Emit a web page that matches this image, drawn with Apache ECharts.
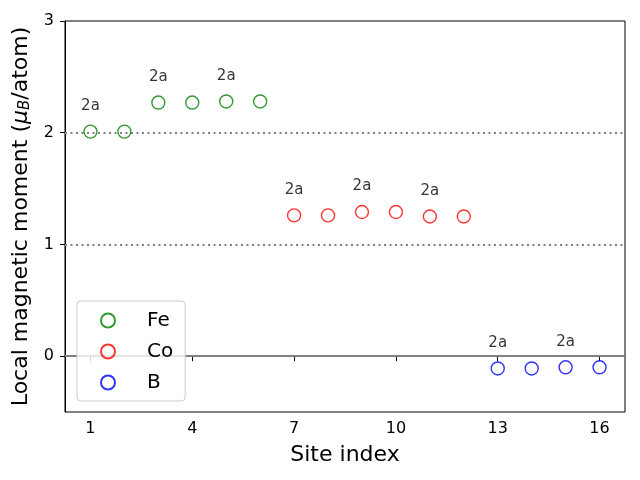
<!DOCTYPE html>
<html>
<head>
<meta charset="utf-8">
<script src="https://cdn.jsdelivr.net/npm/echarts@6/dist/echarts.min.js"></script>
<style>
  html, body { margin: 0; padding: 0; background: #fff; }
  #chart { width: 640px; height: 480px; }
</style>
</head>
<body>
<div id="chart"></div>
<script>
const feSites = [1, 2, 3, 4, 5, 6];
const feMoments = [2.01, 2.01, 2.27, 2.27, 2.28, 2.28];
const coSites = [7, 8, 9, 10, 11, 12];
const coMoments = [1.26, 1.26, 1.29, 1.29, 1.25, 1.25];
const bSites = [13, 14, 15, 16];
const bMoments = [-0.11, -0.11, -0.10, -0.10];
const labelSites = [1, 3, 5, 7, 9, 11, 13, 15];
const labelText = '2a';
const xTicks = [1, 4, 7, 10, 13, 16];
const yTicks = [0, 1, 2, 3];
const refLinesDotted = [1, 2];
const refLineSolid = 0;

const FONT = 'DejaVu Sans';

function buildData(sites, values) {
  return sites.map((s, i) => {
    const item = { value: [s, values[i]] };
    if (labelSites.indexOf(s) >= 0) {
      item.label = { show: true };
    }
    return item;
  });
}

function makeSeries(name, color, sites, values, extra) {
  return Object.assign({
    name,
    type: 'scatter',
    symbol: 'circle',
    symbolSize: 13,
    itemStyle: {
      color: 'rgba(0,0,0,0)',
      borderColor: color,
      borderWidth: 1.4,
    },
    label: {
      show: false,
      position: 'top',
      distance: 11,
      formatter: labelText,
      color: '#000',
      fontFamily: FONT,
      fontSize: 15,
    },
    emphasis: { disabled: true },
    data: buildData(sites, values),
    z: 3,
  }, extra || {});
}

const chart = echarts.init(document.getElementById('chart'));

const option = {
  animation: false,
  textStyle: { fontFamily: FONT },
  grid: {
    left: 65,
    right: 15,
    top: 21,
    bottom: 68,
    outerBoundsMode: 'none',
    containLabel: false,
    show: true,
    borderColor: '#000',
    borderWidth: 1,
    backgroundColor: 'transparent',
  },
  legend: {
    orient: 'vertical',
    left: 77,
    top: 301,
    padding: [9, 12, 8, 23],
    itemGap: 10,
    itemWidth: 14,
    itemHeight: 14,
    backgroundColor: 'rgba(255,255,255,0.8)',
    borderColor: '#cccccc',
    borderWidth: 1,
    borderRadius: 4,
    textStyle: {
      fontFamily: FONT,
      fontSize: 20,
      color: '#000',
      lineHeight: 21,
      padding: [0, 0, 0, 27],
    },
    data: ['Fe', 'Co', 'B'],
  },
  xAxis: {
    type: 'value',
    min: 0.25,
    max: 16.75,
    name: 'Site index',
    nameLocation: 'middle',
    nameGap: 32,
    nameTextStyle: { fontFamily: FONT, fontSize: 22, color: '#000' },
    axisLine: { show: true, lineStyle: { color: '#000', width: 1 } },
    axisTick: {
      show: true,
      length: 5,
      customValues: xTicks,
      lineStyle: { color: '#000', width: 1 },
    },
    axisLabel: {
      customValues: xTicks,
      margin: 9,
      fontFamily: FONT,
      fontSize: 16,
      color: '#000',
    },
    splitLine: { show: false },
  },
  yAxis: {
    type: 'value',
    min: -0.5,
    max: 3,
    name: '{n|Local magnetic moment (}{mu|μ}{sub|B}{n|/atom)}',
    nameLocation: 'middle',
    nameRotate: 90,
    nameGap: 24,
    nameTextStyle: {
      fontFamily: FONT,
      fontSize: 22,
      color: '#000',
      rich: {
        n: { fontFamily: FONT, fontSize: 22, lineHeight: 24, color: '#000' },
        mu: { fontFamily: FONT, fontSize: 22, lineHeight: 24, fontStyle: 'italic', color: '#000' },
        sub: { fontFamily: FONT, fontSize: 15, lineHeight: 14, fontStyle: 'italic', color: '#000', verticalAlign: 'bottom' },
      },
    },
    axisLine: { show: true, lineStyle: { color: '#000', width: 1 } },
    axisTick: {
      show: true,
      length: 5,
      customValues: yTicks,
      lineStyle: { color: '#000', width: 1 },
    },
    axisLabel: {
      customValues: yTicks,
      margin: 11,
      fontFamily: FONT,
      fontSize: 16,
      color: '#000',
    },
    splitLine: { show: false },
  },
  series: [
    makeSeries('Fe', '#008000', feSites, feMoments, {
      markLine: {
        silent: true,
        symbol: 'none',
        label: { show: false },
        z: 1,
        data: refLinesDotted.map((v) => ({
          yAxis: v,
          lineStyle: { color: '#808080', width: 2, type: [2, 3.5] },
        })).concat([{
          yAxis: refLineSolid,
          lineStyle: { color: '#808080', width: 2, type: 'solid' },
        }]),
      },
    }),
    makeSeries('Co', '#ff0000', coSites, coMoments),
    makeSeries('B', '#0000ff', bSites, bMoments),
  ],
};

chart.setOption(option);
</script>
</body>
</html>
